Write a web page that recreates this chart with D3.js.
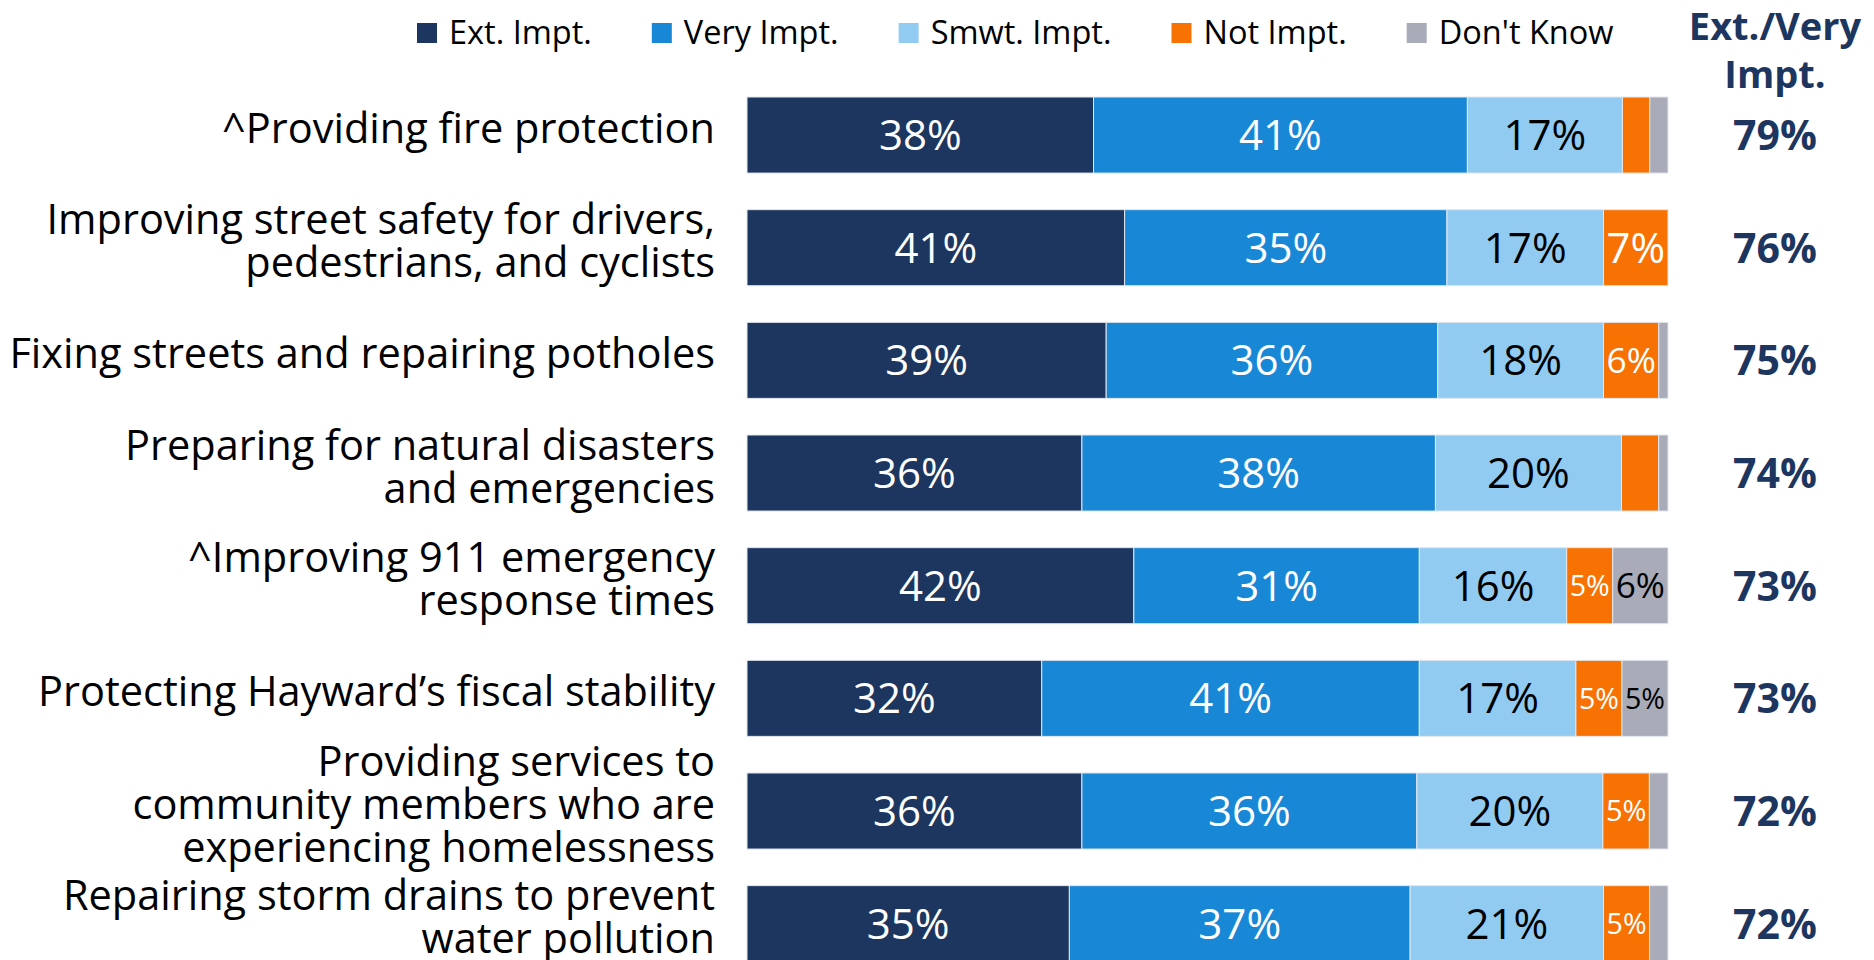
<!DOCTYPE html>
<head>
  <meta charset="utf-8">
  <script src="https://d3js.org/d3.v7.min.js"></script>
  <style>
body { margin: 0; background: #fff; }
svg { font-family: "Open Sans", "Noto Sans", sans-serif; }
  </style>
</head>

<body>
  <script>
    // categories, top to bottom ("\n" = line break in the label)
    var categories = [
      "^Providing fire protection",
      "Improving street safety for drivers,\npedestrians, and cyclists",
      "Fixing streets and repairing potholes",
      "Preparing for natural disasters\nand emergencies",
      "^Improving 911 emergency\nresponse times",
      "Protecting Hayward\u2019s fiscal stability",
      "Providing services to\ncommunity members who are\nexperiencing homelessness",
      "Repairing storm drains to prevent\nwater pollution"
    ];
    var seriesNames = ["Ext. Impt.", "Very Impt.", "Smwt. Impt.", "Not Impt.", "Don't Know"];
    var extImpt   = [38, 41, 39, 36, 42, 32, 36, 35];
    var veryImpt  = [41, 35, 36, 38, 31, 41, 36, 37];
    var smwtImpt  = [17, 17, 18, 20, 16, 17, 20, 21];
    var notImpt   = [3, 7, 6, 4, 5, 5, 5, 5];
    var dontKnow  = [2, 0, 1, 1, 6, 5, 2, 2];
    var summaryTitle = ["Ext./Very", "Impt."];

    var colors = ["#1d3660", "#1787d6", "#92cbf2", "#f77202", "#a9abb9"];
    var labelColors = ["#fff", "#fff", "#000", "#fff", "#000"];
    var navy = "#1d3660";

    var W = 1874, H = 960;
    var barLeft = 747, barRight = 1668, sumX = 1775;

    var svg = d3.select("body").append("svg")
      .attr("width", W)
      .attr("height", H);

    var series = [extImpt, veryImpt, smwtImpt, notImpt, dontKnow];
    var rows = categories.map(function(c, i) {
      var r = { cat: c };
      seriesNames.forEach(function(s, k) { r[s] = series[k][i]; });
      r.total = d3.sum(series, function(arr) { return arr[i]; });
      return r;
    });

    var y = d3.scaleBand()
      .domain(categories)
      .range([78.7, 980])
      .paddingInner(0.325)
      .paddingOuter(0.1625);

    // each row is stretched to the full bar width
    var x = d3.scaleLinear().domain([0, 1]).range([barLeft, barRight]);

    var stacked = d3.stack().keys(seriesNames)
      .value(function(d, key) { return d[key] / d.total; })(rows);

    var layer = svg.append("g").selectAll("g")
      .data(stacked)
      .enter().append("g")
      .attr("fill", function(d, i) { return colors[i]; });

    layer.selectAll("rect")
      .data(function(d) { return d; })
      .enter().append("rect")
      .attr("x", function(d) { return x(d[0]); })
      .attr("y", function(d) { return y(d.data.cat); })
      .attr("width", function(d) { return x(d[1]) - x(d[0]); })
      .attr("height", y.bandwidth())
      .attr("stroke", "#e3e7ee")
      .attr("stroke-width", 1);

    // value labels inside segments (only 5% and up), shrunk to fit
    stacked.forEach(function(s, k) {
      s.forEach(function(d) {
        var v = d.data[s.key];
        if (v < 5) return;
        var x0 = x(d[0]), x1 = x(d[1]);
        var t = svg.append("text")
          .attr("x", (x0 + x1) / 2)
          .attr("text-anchor", "middle")
          .attr("fill", labelColors[k])
          .style("font-size", "42px")
          .text(v + "%");
        var fs = 42;
        var tw = t.node().getComputedTextLength();
        if (tw > x1 - x0 - 6) fs = 42 * (x1 - x0 - 6) / tw;
        t.style("font-size", fs + "px")
          .attr("y", y(d.data.cat) + y.bandwidth() / 2 + fs * 0.36);
      });
    });

    // category labels
    svg.append("g").selectAll("text")
      .data(categories)
      .enter().append("text")
      .attr("text-anchor", "end")
      .style("font-size", "41.5px")
      .attr("fill", "#000")
      .each(function(c) {
        var lines = c.split("\n");
        var cy = y(c) + y.bandwidth() / 2 + 8;
        var t = d3.select(this);
        lines.forEach(function(l, i) {
          t.append("tspan")
            .attr("x", 715)
            .attr("y", cy + (i - (lines.length - 1) / 2) * 43)
            .text(l);
        });
      });

    // Ext./Very summary column
    svg.append("g").selectAll("text")
      .data(rows)
      .enter().append("text")
      .attr("x", sumX)
      .attr("y", function(d) { return y(d.cat) + y.bandwidth() / 2 + 15; })
      .attr("text-anchor", "middle")
      .attr("fill", navy)
      .style("font-size", "41px")
      .style("font-weight", 700)
      .text(function(d) { return (d["Ext. Impt."] + d["Very Impt."]) + "%"; });

    svg.append("g").selectAll("text")
      .data(summaryTitle)
      .enter().append("text")
      .attr("x", sumX)
      .attr("y", function(d, i) { return 40 + i * 48; })
      .attr("text-anchor", "middle")
      .attr("fill", navy)
      .style("font-size", "38px")
      .style("font-weight", 700)
      .text(function(d) { return d; });

    // legend
    var legend = svg.append("g");
    var lx = 417;
    seriesNames.forEach(function(s, i) {
      legend.append("rect")
        .attr("x", lx).attr("y", 23)
        .attr("width", 20).attr("height", 20)
        .attr("fill", colors[i]);
      var t = legend.append("text")
        .attr("x", lx + 32).attr("y", 44)
        .style("font-size", "32.5px")
        .attr("fill", "#000")
        .text(s);
      lx += 32 + t.node().getComputedTextLength() + 60;
    });
  </script>
</body>
